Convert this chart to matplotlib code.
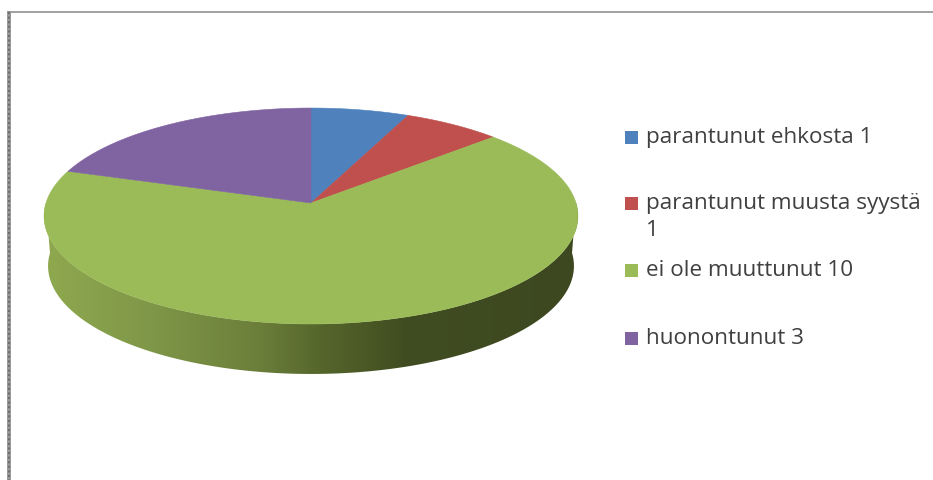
import numpy as np
import matplotlib
matplotlib.use('Agg')
import matplotlib.pyplot as plt
from matplotlib.colors import LinearSegmentedColormap
from matplotlib.patches import Polygon, Rectangle

labels = ['parantunut ehkosta 1', 'parantunut muusta syystä\n1', 'ei ole muuttunut 10', 'huonontunut 3']
values = [1, 1, 10, 3]
colors = ['#4f81bd', '#c0504d', '#9bbb59', '#8064a2']

W, H = 933, 480
APEX_X, APEX_Y = 311, 203
A, B, K = 265, 106.4, 0.1204  # perspective of the disc
DEPTH = 50
WALL_SHRINK = 0.985


def project(theta):
    # theta runs clockwise from the back of the disc
    u, v = np.sin(theta), np.cos(theta)
    d = 1 + K * v
    return APEX_X + A * u / d, APEX_Y - B * v / d


fig = plt.figure(figsize=(W / 100, H / 100), dpi=100, facecolor='white')
ax = fig.add_axes([0, 0, 1, 1])
ax.set_xlim(0, W)
ax.set_ylim(H, 0)
ax.axis('off')

# frame lines
ax.add_patch(Rectangle((8, 11), W - 8, 2, fc='#a3a3a3', ec='none'))
ax.add_patch(Rectangle((7, 11), 3.5, H - 11, fc='#9a9a9a', ec='none'))
ax.vlines(8.5, 12, H, color='#6e6e6e', lw=1.5, linestyles=(0, (1, 1.2)))

# side wall, shaded left to right
t = np.radians(np.linspace(90, 270, 300))
x, y = project(t)
xb = 311 + (x - 311) * WALL_SHRINK
yb = y + DEPTH
wall = Polygon(np.r_[np.c_[x, y], np.c_[xb, yb][::-1]], closed=True, fc='none', ec='none')
ax.add_patch(wall)
shade = LinearSegmentedColormap.from_list('wall', [
    (0.0, '#8fa94f'), (0.2, '#7f9748'), (0.4, '#6c7f3a'),
    (0.52, '#55662c'), (0.68, '#404c20'), (1.0, '#3d4820')])
img = ax.imshow(np.linspace(0, 1, 512)[None, :], cmap=shade, aspect='auto',
                extent=(44, 578, 375, 200), zorder=1)
img.set_clip_path(wall)
ax.set_xlim(0, W)
ax.set_ylim(H, 0)

# top face
edges = np.r_[0, np.cumsum(values)] / np.sum(values) * 2 * np.pi
for i in range(len(values)):
    th = np.linspace(edges[i], edges[i + 1], 200)
    px, py = project(th)
    pts = np.r_[[[APEX_X, APEX_Y]], np.c_[px, py]]
    ax.add_patch(Polygon(pts, closed=True, fc=colors[i], ec=colors[i], lw=0.4, zorder=2))

# legend
square_y = [137, 203, 270, 338]
text_top = [127.5, 193.5, 260.5, 328.5]
for lab, c, sy, ty in zip(labels, colors, square_y, text_top):
    ax.add_patch(Rectangle((625, sy - 6.5), 13, 13, fc=c, ec='none', zorder=3))
    ax.text(646, ty, lab, family='Open Sans', fontsize=16.2, color='#404040',
            va='top', ha='left', linespacing=1.32, zorder=3)

fig.savefig('out.png', dpi=100)
